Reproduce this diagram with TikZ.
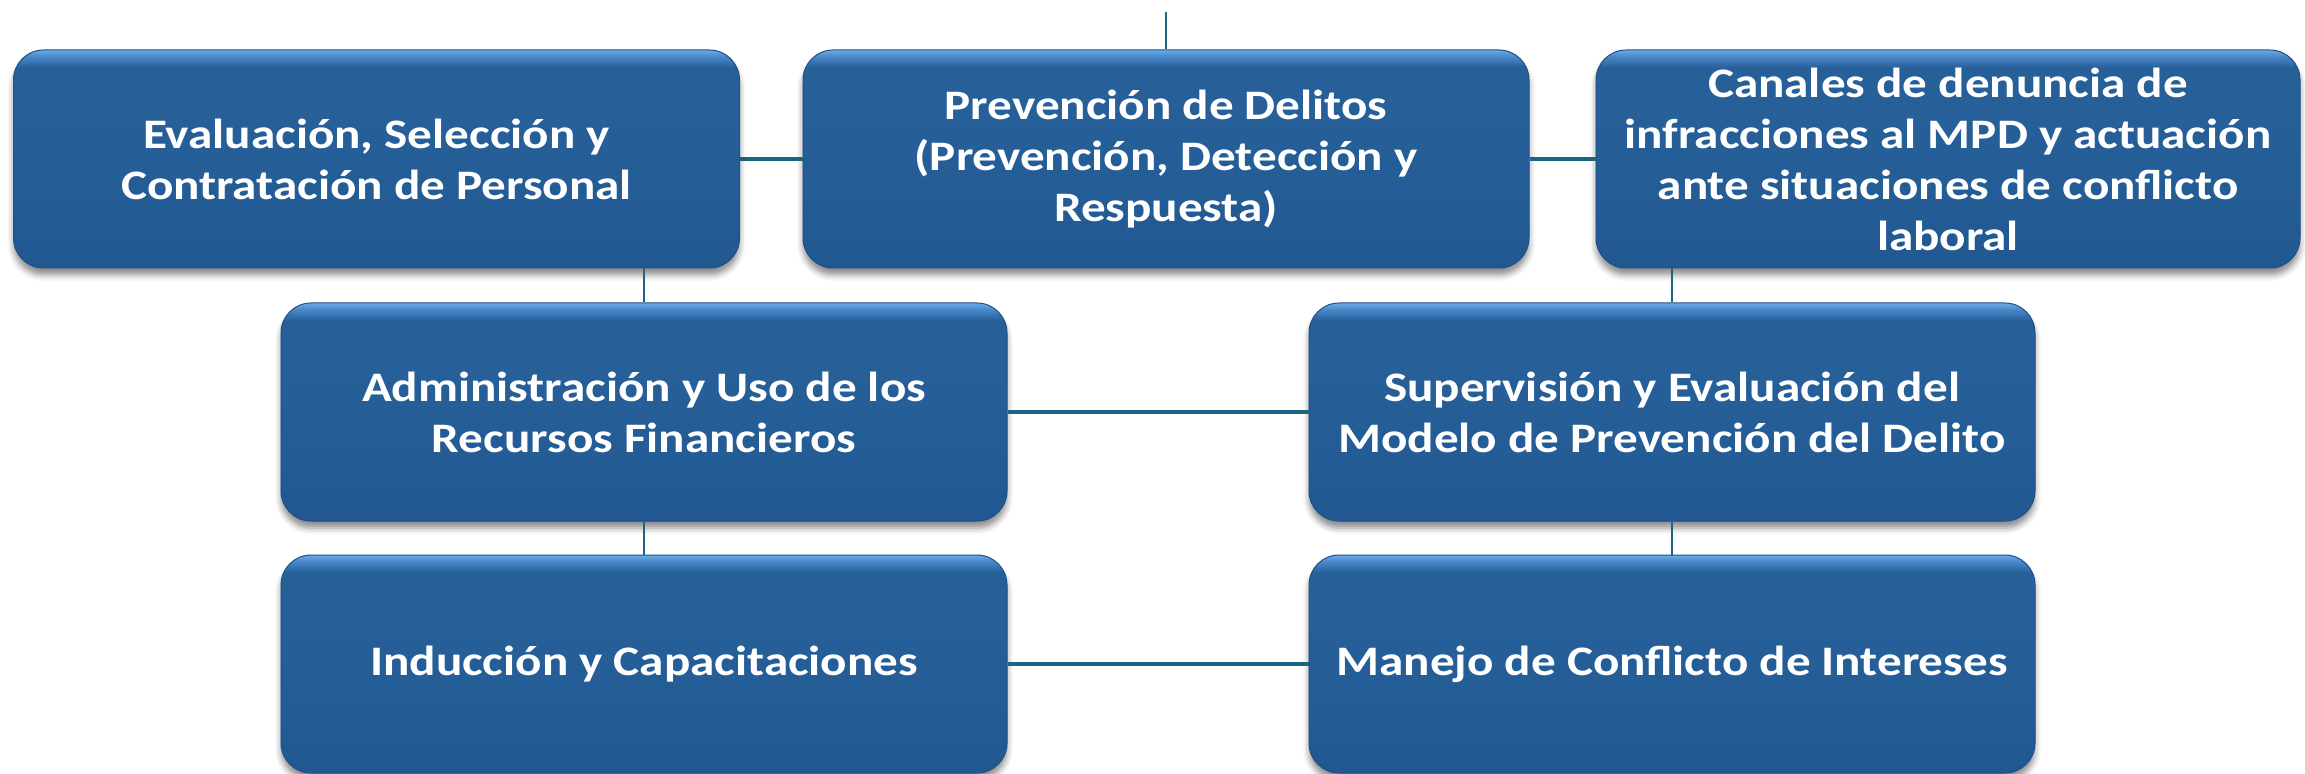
\documentclass[tikz,border=0pt]{standalone}
\usepackage{fontspec}
\setmainfont{Carlito}[FakeStretch=1.17]
\usetikzlibrary{shadows.blur}
\definecolor{bdark}{RGB}{33,88,146}
\definecolor{bbase}{RGB}{39,96,153}
\definecolor{bmid}{RGB}{72,135,200}
\definecolor{blight}{RGB}{106,172,234}
\definecolor{bedge}{RGB}{30,80,135}
\definecolor{conn}{RGB}{31,99,132}
\pgfdeclareverticalshading{boxshade}{100bp}{color(0bp)=(bdark); color(25bp)=(bdark); color(60bp)=(bbase); color(71bp)=(bbase); color(73.5bp)=(bmid); color(75bp)=(blight); color(100bp)=(blight)}
\tikzset{
  boxnode/.style={rectangle, rounded corners=15pt, shading=boxshade, draw=bedge, line width=0.5pt,
    minimum width=363pt, minimum height=109pt, inner sep=0pt, align=center, text=white,
    font=\bfseries\fontsize{21}{25.5}\selectfont,
    blur shadow={shadow xshift=0pt, shadow yshift=-3.5pt, shadow blur radius=3pt, shadow opacity=45}},
  hconn/.style={draw=conn, line width=2.2pt},
  vconn/.style={draw=conn, line width=1.3pt}
}
\begin{document}
\begin{tikzpicture}[x=0.5pt,y=-0.5pt]
\useasboundingbox (0,0) rectangle (2305,774);
\node[boxnode] (b1) at (376.5,159) {Evaluación, Selección y\\Contratación de Personal};
\node[boxnode] (b2) at (1166,159) {Prevención de Delitos\\(Prevención, Detección y\\Respuesta)};
\node[boxnode, minimum width=352pt] (b3) at (1948,159) {Canales de denuncia de\\infracciones al MPD y actuación\\ante situaciones de conflicto\\laboral};
\node[boxnode] (b4) at (644,412) {Administración y Uso de los\\Recursos Financieros};
\node[boxnode] (b5) at (1672,412) {Supervisión y Evaluación del\\Modelo de Prevención del Delito};
\node[boxnode] (b6) at (644,664) {Inducción y Capacitaciones};
\node[boxnode] (b7) at (1672,664) {Manejo de Conflicto de Intereses};
\coordinate (top) at (1166,12);
\draw[vconn] (top) -- (b2.north);
\draw[hconn] (b1.east) -- (b2.west);
\draw[hconn] (b2.east) -- (b3.west);
\draw[vconn] (b4.north |- b1.south) -- (b4.north);
\draw[vconn] (b5.north |- b3.south) -- (b5.north);
\draw[hconn] (b4.east) -- (b5.west);
\draw[vconn] (b4.south) -- (b6.north);
\draw[vconn] (b5.south) -- (b7.north);
\draw[hconn] (b6.east) -- (b7.west);
\end{tikzpicture}
\end{document}
